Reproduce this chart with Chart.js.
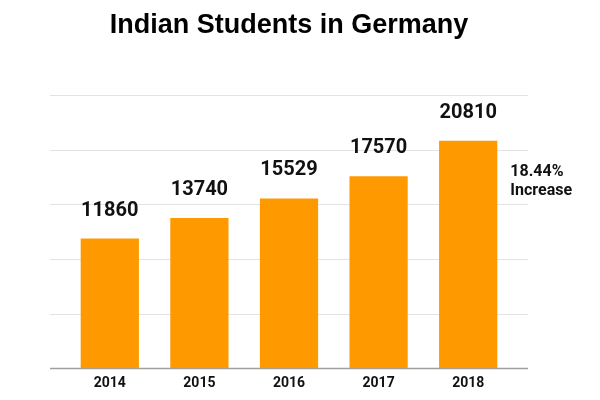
<!DOCTYPE html>
<html>
<head>
<meta charset="utf-8">
<script src="https://cdn.jsdelivr.net/npm/chart.js@4"></script>
<style>
  html, body { margin: 0; padding: 0; background: #fff; }
  #wrap { width: 600px; height: 400px; }
</style>
</head>
<body>
<div id="wrap"><canvas id="myChart"></canvas></div>
<script>
const years = ['2014', '2015', '2016', '2017', '2018'];
const students = [11860, 13740, 15529, 17570, 20810];
const yTicks = [0, 5000, 10000, 15000, 20000, 25000];
const note = ['18.44%', 'Increase'];

// grid lines run a bit past the bars on both sides
const gridPlugin = {
    id: 'gridLines',
    beforeDatasetsDraw(chart) {
        const ctx = chart.ctx;
        const y = chart.scales.y;
        const left = chart.chartArea.left - 15;
        const right = chart.chartArea.right + 15;
        ctx.save();
        yTicks.forEach(v => {
            const py = Math.round(y.getPixelForValue(v)) + 0.5;
            ctx.strokeStyle = v === 0 ? '#9e9e9e' : '#e3e3e3';
            ctx.lineWidth = v === 0 ? 1.5 : 1;
            ctx.beginPath();
            ctx.moveTo(left, py);
            ctx.lineTo(right, py);
            ctx.stroke();
        });
        ctx.restore();
    }
};

const labelPlugin = {
    id: 'barLabels',
    afterDatasetsDraw(chart) {
        const ctx = chart.ctx;
        const bars = chart.getDatasetMeta(0).data;
        ctx.save();
        ctx.fillStyle = '#111';
        ctx.textAlign = 'center';
        ctx.textBaseline = 'alphabetic';
        ctx.font = 'bold 20px Roboto';
        bars.forEach((bar, i) => {
            ctx.fillText(String(students[i]), bar.x, bar.y - 23);
        });
        // note next to the last bar
        const last = bars[bars.length - 1];
        ctx.textAlign = 'left';
        ctx.font = 'bold 16px Roboto';
        const nx = last.x + last.width / 2 + 13;
        ctx.fillText(note[0], nx, last.y + 35);
        ctx.fillText(note[1], nx, last.y + 54);
        ctx.restore();
    }
};

new Chart(document.getElementById('myChart'), {
    type: 'bar',
    data: {
        labels: years,
        datasets: [{
            data: students,
            backgroundColor: '#ff9900',
            borderWidth: 0,
            categoryPercentage: 1,
            barPercentage: 0.65
        }]
    },
    options: {
        responsive: true,
        maintainAspectRatio: false,
        animation: false,
        layout: {
            padding: { left: 65, right: 87, top: 0, bottom: 2 }
        },
        plugins: {
            legend: { display: false },
            tooltip: { enabled: false },
            title: {
                display: true,
                text: 'Indian Students in Germany',
                color: '#000',
                font: { family: '"Liberation Sans", Arial', size: 27, weight: 'bold', lineHeight: 1.2 },
                padding: { top: 9, bottom: 53.6 }
            }
        },
        scales: {
            x: {
                grid: { display: false, drawTicks: false },
                border: { display: false },
                ticks: {
                    color: '#111',
                    padding: 6.5,
                    font: { family: 'Roboto', size: 14, weight: 'bold' }
                }
            },
            y: {
                display: false,
                min: 0,
                max: 25000,
                ticks: { stepSize: 5000 }
            }
        }
    },
    plugins: [gridPlugin, labelPlugin]
});
</script>
</body>
</html>
